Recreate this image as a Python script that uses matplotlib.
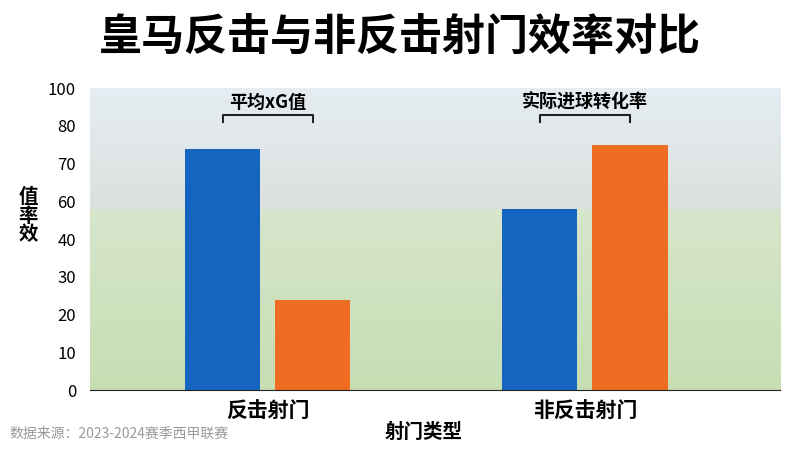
import matplotlib
matplotlib.use("Agg")
import matplotlib.pyplot as plt
import numpy as np

plt.rcParams['font.family'] = ['Noto Sans CJK SC', 'DejaVu Sans']

categories = ["反击射门", "非反击射门"]
blue_values = [74, 56]
orange_values = [24, 75]
labels = ["平均xG值", "实际进球转化率"]
tick_values = [0, 10, 20, 30, 40, 60, 70, 80, 100]

tv = np.array(tick_values, dtype=float)
idx = np.arange(len(tv), dtype=float)
def fwd(v):
    return np.interp(v, tv, idx)
def inv(u):
    return np.interp(u, idx, tv)

fig = plt.figure(figsize=(8, 4.5), dpi=100)
ax = fig.add_axes([0.1125, 0.133, 0.8625, 0.671])
ax.set_yscale('function', functions=(fwd, inv))
x = np.arange(len(categories))
w, off = 0.237, 0.142

grad = np.zeros((100, 1, 3))
for i in range(100):
    t = i / 99
    if t < 0.4:
        c = np.array([0.90, 0.93, 0.95]) * (1 - t / 0.4) + np.array([0.86, 0.88, 0.87]) * (t / 0.4)
    else:
        s = (t - 0.4) / 0.6
        c = np.array([0.84, 0.90, 0.80]) * (1 - s) + np.array([0.78, 0.87, 0.70]) * s
    grad[i, 0] = c
bax = fig.add_axes(ax.get_position(), zorder=-1)
bax.imshow(grad, aspect='auto', origin='upper')
bax.axis('off')
ax.patch.set_visible(False)

ax.bar(x - off, blue_values, w, color='#1565c0', zorder=2)
ax.bar(x + off, orange_values, w, color='#ef6c23', zorder=2)

ax.set_xlim(-0.56, 1.615)
ax.set_ylim(0, 100)
ax.set_yticks(tick_values)
ax.set_yticklabels([str(v) for v in tick_values])
ax.yaxis.set_minor_locator(matplotlib.ticker.NullLocator())
ax.tick_params(axis='y', length=0, labelsize=12, pad=10)
ax.tick_params(axis='x', length=0, labelsize=15, pad=8)
ax.set_xticks(x)
ax.set_xticklabels(categories, fontweight='bold')
for k, s in ax.spines.items():
    s.set_visible(k == 'bottom')
ax.spines['bottom'].set_color('#222')

for i, lab in enumerate(labels):
    x0, x1 = i - off, i + off
    ax.plot([x0, x0, x1, x1], [82, 86, 86, 82], color='#222', lw=1.5, zorder=3)
    ax.text(i, 87.5, lab, ha='center', va='bottom', fontsize=13, fontweight='bold', zorder=3)

fig.text(0.5, 0.915, "皇马反击与非反击射门效率对比", ha='center', va='center', fontsize=31, fontweight='bold')
fig.text(0.035, 0.52, "值\n率\n效", ha='center', va='center', fontsize=14, fontweight='bold', linespacing=1.0)
fig.text(0.53, 0.04, "射门类型", ha='center', va='center', fontsize=14, fontweight='bold')
fig.text(0.012, 0.035, "数据来源：2023-2024赛季西甲联赛", ha='left', va='center', fontsize=10, color='#999999')

fig.savefig("out.png", dpi=100)
